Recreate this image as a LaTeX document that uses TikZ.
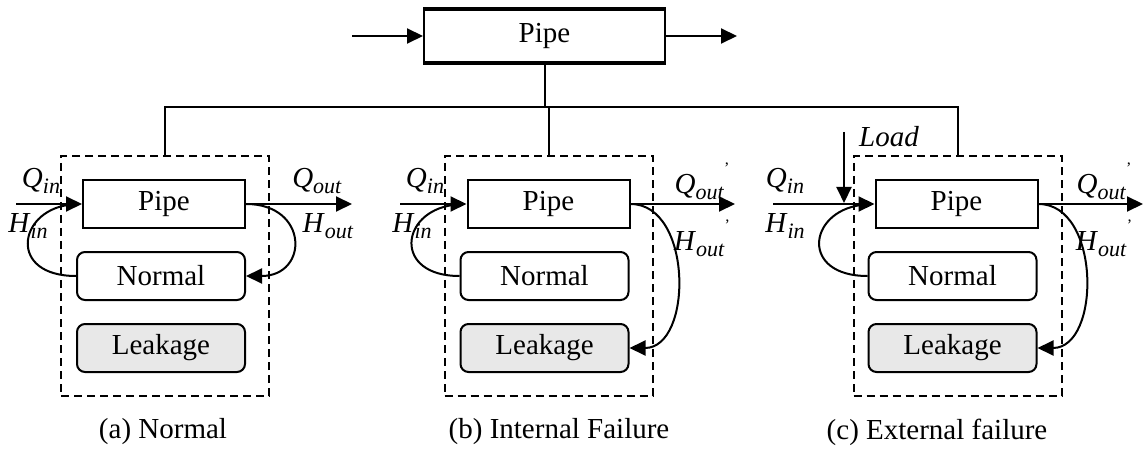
\documentclass[tikz,border=0pt]{standalone}
\usepackage{fontspec}
\setmainfont{Liberation Serif}
\usetikzlibrary{arrows.meta}
\newcommand{\varsub}[2]{\textit{#1}\raisebox{-0.45ex}{\fontsize{11}{12}\selectfont\textit{#2}}}
\newcommand{\prm}{\raisebox{1.5ex}{\footnotesize '}}
\tikzset{
  thinline/.style={line width=1pt},
  arr/.style={line width=1pt,-{Triangle[length=8pt,width=7.5pt]}},
  pipebox/.style={draw,line width=1pt,minimum width=81pt,minimum height=24pt,inner sep=0pt},
  statebox/.style={draw,line width=1pt,rounded corners=4pt,minimum width=84pt,minimum height=24pt,inner sep=0pt},
  leakbox/.style={statebox,fill=gray!18},
  dashframe/.style={draw,line width=1pt,dash pattern=on 4pt off 2.5pt,minimum width=104pt,minimum height=120pt,inner sep=0pt}
}
\begin{document}
\begin{tikzpicture}[x=0.5pt,y=-0.5pt,font=\fontsize{14.5}{16}\selectfont]
            \useasboundingbox (0,0) rectangle (1144,454);

            % 顶部管道
            \node[draw,line width=1pt,minimum width=120.5pt,minimum height=26pt] (pipe) at (544.5,36) {Pipe};
            \draw[line width=2.4pt] (pipe.north west) -- (pipe.north east);
            \draw[line width=2.4pt] (pipe.south west) -- (pipe.south east);
            \coordinate (tin) at (352,36);
            \coordinate (tout) at (737,36);
            \draw[arr] (tin) -- (pipe.west);
            \draw[arr] (pipe.east) -- (tout);

            % (a) 正常
            \node[dashframe] (fa) at (165,276) {};
            \node[pipebox] (pa) at (164,204) {Pipe};
            \node[statebox] (na) at (161,276) {Normal};
            \node[leakbox] (la) at (161,348) {Leakage};
            \coordinate (ina) at (16,204);
            \coordinate (outa) at (352,204);
            \coordinate (ja) at (68,205);
            \draw[arr] (ina) -- (pa.west);
            \draw[arr] (pa.east) -- (outa);
            \draw[arr] (pa.east) .. controls (309,204) and (309,276) .. (na.east);
            \draw[thinline] (na.west) .. controls (8,276) and (18,212) .. (ja);
            \node (qina) at (41,181) {\varsub{Q}{in}};
            \node (hina) at (28,226) {\varsub{H}{in}};
            \node (qouta) at (317,181) {\varsub{Q}{out}};
            \node (houta) at (328,226) {\varsub{H}{out}};
            \node (capa) at (163,432) {(a) Normal};

            % (b) 内部故障
            \node[dashframe] (fb) at (548.5,276) {};
            \node[pipebox] (pb) at (548.5,204) {Pipe};
            \node[statebox] (nb) at (544.5,276) {Normal};
            \node[leakbox] (lb) at (544.5,348) {Leakage};
            \coordinate (inb) at (400,204);
            \coordinate (outb) at (735,204);
            \coordinate (jb) at (453,205);
            \draw[arr] (inb) -- (pb.west);
            \draw[arr] (pb.east) -- (outb);
            \draw[arr] (pb.east) .. controls (693,204) and (693,348) .. (lb.east);
            \draw[thinline] (nb.west) .. controls (393,276) and (400,212) .. (jb);
            \node (qinb) at (425,181) {\varsub{Q}{in}};
            \node (hinb) at (412,226) {\varsub{H}{in}};
            \node (qoutb) at (702,181) {\varsub{Q}{out}\prm};
            \node (houtb) at (702,238) {\varsub{H}{out}\prm};
            \node (capb) at (559,432) {(b) Internal Failure};

            % (c) 外部故障
            \node[dashframe] (fc) at (957.5,276) {};
            \node[pipebox] (pc) at (956.5,204) {Pipe};
            \node[statebox] (nc) at (952.5,276) {Normal};
            \node[leakbox] (lc) at (952.5,348) {Leakage};
            \coordinate (inc) at (773,204);
            \coordinate (outc) at (1143,204);
            \coordinate (jc) at (861,205);
            \draw[arr] (inc) -- (pc.west);
            \draw[arr] (pc.east) -- (outc);
            \draw[arr] (pc.east) .. controls (1101,204) and (1101,348) .. (lc.east);
            \draw[thinline] (nc.west) .. controls (800,276) and (808,212) .. (jc);
            \coordinate (loadtop) at (844,132);
            \coordinate (loadend) at (844,203);
            \draw[arr] (loadtop) -- (loadend);
            \node (load) at (889,137) {\textit{Load}};
            \node (qinc) at (785,181) {\varsub{Q}{in}};
            \node (hinc) at (785,226) {\varsub{H}{in}};
            \node (qoutc) at (1104,181) {\varsub{Q}{out}\prm};
            \node (houtc) at (1104,238) {\varsub{H}{out}\prm};
            \node (capc) at (937,432) {(c) External failure};

            % 连接线
            \coordinate (bus) at (544.5,107);
            \draw[thinline] (pipe.south) -- (bus);
            \draw[thinline] (fa.north) -- (fa.north |- bus) -- (fc.north |- bus) -- (fc.north);
            \draw[thinline] (fb.north) -- (fb.north |- bus);
\end{tikzpicture}
\end{document}
